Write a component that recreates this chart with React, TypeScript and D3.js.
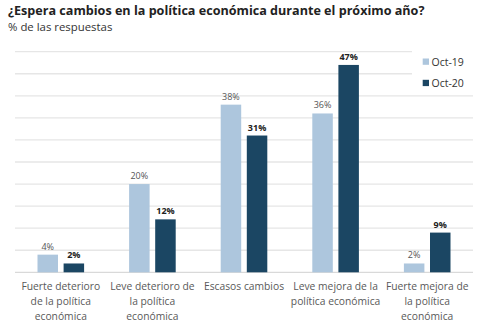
import React from "react";
import * as d3 from "d3";

const categories = [
  ["Fuerte deterioro", "de la política", "económica"],
  ["Leve deterioro de", "la política", "económica"],
  ["Escasos cambios"],
  ["Leve mejora de la", "política económica"],
  ["Fuerte mejora de", "la política", "económica"],
];
const oct19 = [4, 20, 38, 36, 2];
const oct20 = [2, 12, 31, 47, 9];
const seriesNames = ["Oct-19", "Oct-20"];
const yTicks = [0, 5, 10, 15, 20, 25, 30, 35, 40, 45, 50];

const W = 480;
const H = 333;
const FONT = "'Open Sans', 'Liberation Sans', sans-serif";
const C19 = "#adc6dd";
const C20 = "#1b4663";

export default function App() {
  const x = d3.scaleBand<number>().domain(d3.range(5)).range([15, 473]).paddingInner(0).paddingOuter(0);
  const y = d3.scaleLinear().domain([0, 50]).range([272.3, 51.7]);
  const barW = 20.5;
  const gap = 5.6;
  const series = [oct19, oct20];
  return (
    <svg width={W} height={H} style={{ position: "absolute", left: 0, top: 0, fontFamily: FONT }}>
      <rect width={W} height={H} fill="#fff" />
      <text x={8} y={15} fontSize={12.6} fontWeight={700} fill="#222">
        ¿Espera cambios en la política económica durante el próximo año?
      </text>
      <text x={8} y={31} fontSize={11.4} fill="#333">% de las respuestas</text>
      {yTicks.map((t) => (
        <line key={t} x1={15} x2={473} y1={y(t)} y2={y(t)} stroke={t === 0 ? "#d9d9d9" : "#e6e6e6"} strokeWidth={1.3} />
      ))}
      {series.map((vals, si) =>
        vals.map((v, i) => {
          const cx = x(i)! + x.bandwidth() / 2;
          const bx = si === 0 ? cx - gap / 2 - barW : cx + gap / 2;
          return (
            <g key={`${si}-${i}`}>
              <rect x={bx} y={y(v)} width={barW} height={y(0) - y(v)} fill={si === 0 ? C19 : C20} />
              <text
                x={bx + barW / 2}
                y={y(v) - 5}
                textAnchor="middle"
                fontSize={9}
                fontWeight={si === 0 ? 400 : 700}
                fill={si === 0 ? "#555" : "#222"}
              >
                {v}%
              </text>
            </g>
          );
        })
      )}
      {categories.map((lines, i) => (
        <text key={i} textAnchor="middle" fontSize={10.3} fill="#595959">
          {lines.map((l, j) => (
            <tspan key={j} x={x(i)! + x.bandwidth() / 2} y={290 + j * 15}>
              {l}
            </tspan>
          ))}
        </text>
      ))}
      <rect x={412} y={48} width={68} height={44} fill="#fff" />
      {seriesNames.map((n, i) => (
        <g key={n}>
          <rect x={422.7} y={58.5 + i * 21.3} width={6.3} height={6.3} fill={i === 0 ? C19 : C20} />
          <text x={431.5} y={66 + i * 21.3} fontSize={10.5} fill="#333">{n}</text>
        </g>
      ))}
    </svg>
  );
}
